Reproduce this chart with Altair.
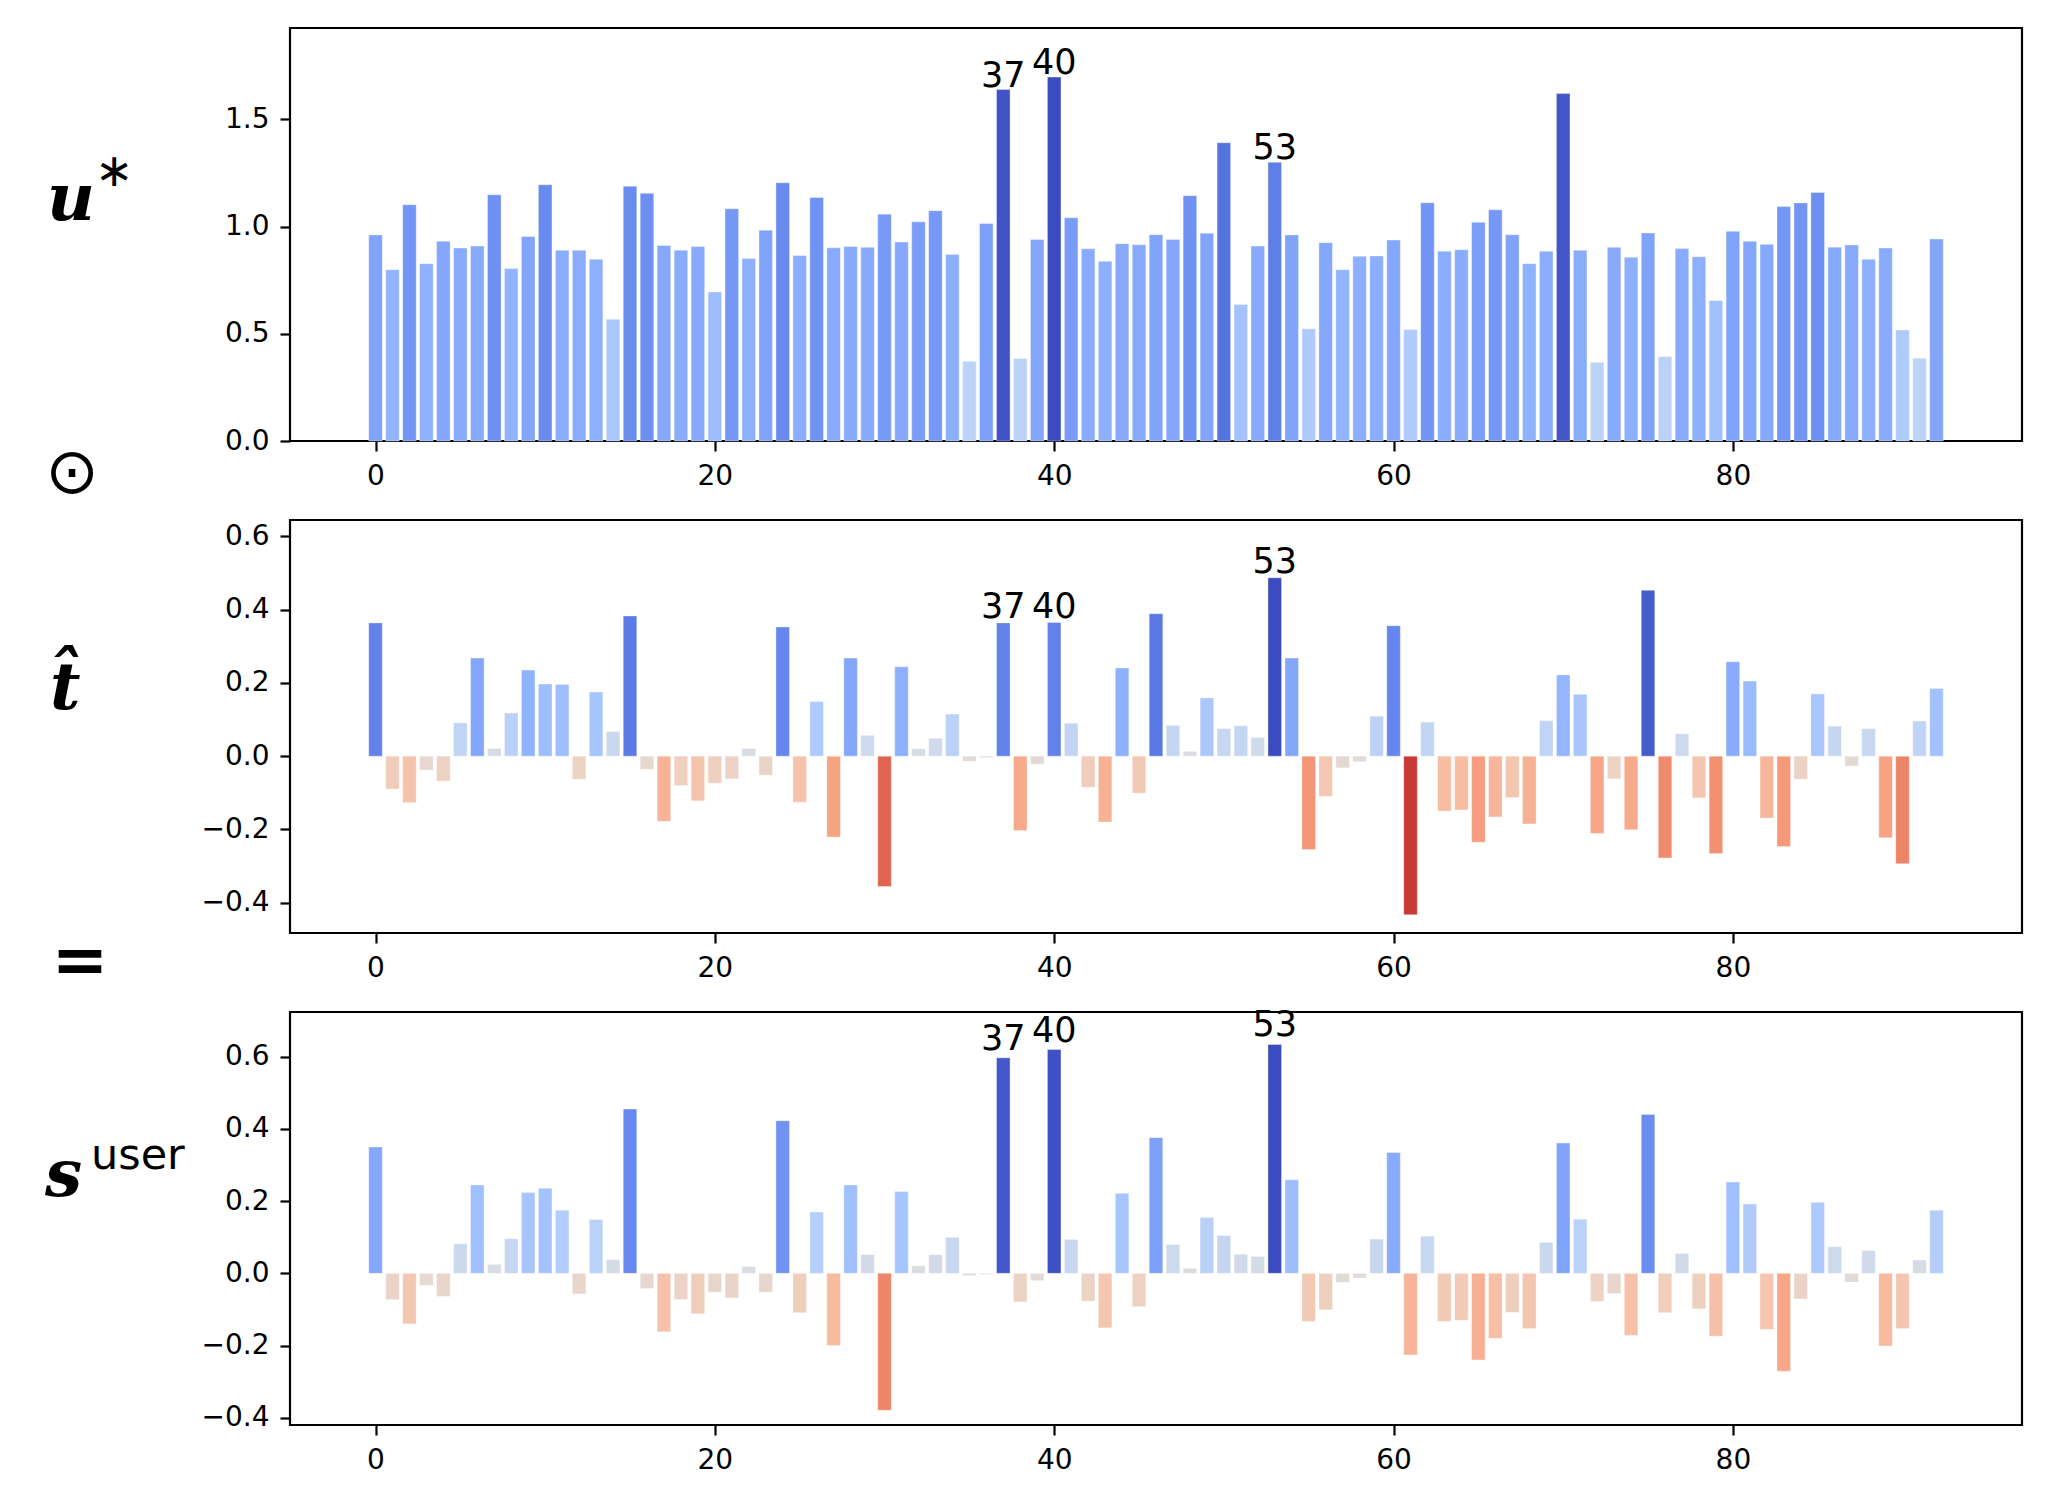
import altair as alt
import pandas as pd

IDX = list(range(93))

U_STAR = [0.961, 0.799, 1.102, 0.827, 0.932, 0.900, 0.909, 1.148, 0.804, 0.954,
          1.195, 0.889, 0.890, 0.848, 0.568, 1.188, 1.155, 0.912, 0.890, 0.907,
          0.695, 1.083, 0.851, 0.983, 1.204, 0.865, 1.135, 0.901, 0.907, 0.903,
          1.058, 0.928, 1.022, 1.074, 0.870, 0.372, 1.014, 1.639, 0.385, 0.940,
          1.697, 1.041, 0.896, 0.838, 0.920, 0.915, 0.962, 0.940, 1.144, 0.969,
          1.391, 0.637, 0.909, 1.300, 0.961, 0.523, 0.925, 0.799, 0.862, 0.863,
          0.937, 0.520, 1.111, 0.885, 0.892, 1.020, 1.078, 0.962, 0.827, 0.885,
          1.620, 0.890, 0.367, 0.903, 0.857, 0.970, 0.394, 0.898, 0.859, 0.655,
          0.978, 0.931, 0.917, 1.093, 1.110, 1.159, 0.904, 0.914, 0.848, 0.900,
          0.518, 0.386, 0.942]

T_HAT = [0.364, -0.090, -0.127, -0.038, -0.068, 0.091, 0.268, 0.021, 0.118, 0.235,
         0.197, 0.196, -0.063, 0.175, 0.067, 0.383, -0.036, -0.178, -0.080, -0.122,
         -0.074, -0.062, 0.021, -0.052, 0.353, -0.126, 0.149, -0.221, 0.268, 0.057,
         -0.356, 0.244, 0.020, 0.049, 0.115, -0.014, -0.004, 0.364, -0.203, -0.022,
         0.365, 0.090, -0.085, -0.180, 0.241, -0.101, 0.389, 0.084, 0.013, 0.159,
         0.075, 0.083, 0.051, 0.487, 0.268, -0.255, -0.110, -0.032, -0.015, 0.109,
         0.356, -0.433, 0.093, -0.150, -0.147, -0.235, -0.166, -0.113, -0.185, 0.097,
         0.222, 0.169, -0.211, -0.062, -0.201, 0.453, -0.278, 0.061, -0.114, -0.266,
         0.258, 0.205, -0.169, -0.247, -0.063, 0.170, 0.082, -0.027, 0.075, -0.223,
         -0.294, 0.096, 0.185]

S_USER = [0.350, -0.073, -0.140, -0.033, -0.064, 0.082, 0.245, 0.025, 0.096, 0.224,
          0.236, 0.175, -0.057, 0.149, 0.038, 0.455, -0.042, -0.162, -0.072, -0.112,
          -0.052, -0.068, 0.019, -0.052, 0.423, -0.109, 0.170, -0.200, 0.245, 0.052,
          -0.379, 0.227, 0.021, 0.052, 0.100, -0.006, -0.003, 0.597, -0.079, -0.020,
          0.620, 0.094, -0.077, -0.151, 0.222, -0.092, 0.376, 0.080, 0.014, 0.155,
          0.105, 0.053, 0.047, 0.634, 0.259, -0.133, -0.101, -0.025, -0.013, 0.095,
          0.335, -0.226, 0.103, -0.133, -0.130, -0.240, -0.180, -0.108, -0.153, 0.086,
          0.361, 0.150, -0.078, -0.056, -0.172, 0.440, -0.109, 0.055, -0.098, -0.174,
          0.253, 0.192, -0.155, -0.271, -0.071, 0.197, 0.074, -0.024, 0.063, -0.201,
          -0.153, 0.037, 0.175]

ANNOTATED = [37, 40, 53]
X_TICKS = [0, 20, 40, 60, 80]
Y_TICKS_TOP = [0.0, 0.5, 1.0, 1.5]
Y_TICKS_MID = [-0.4, -0.2, 0.0, 0.2, 0.4, 0.6]
Y_TICKS_BOT = [-0.4, -0.2, 0.0, 0.2, 0.4, 0.6]
X_DOMAIN = [-5.04, 97.04]
Y_DOMAIN_TOP = [0.0, 1.926]
Y_DOMAIN_MID = [-0.483, 0.645]
Y_DOMAIN_BOT = [-0.420, 0.724]

# matplotlib "coolwarm" colormap stops (Moreland), low -> high
COOLWARM = ["#3b4cc0", "#445acc", "#4d68d7", "#5775e1", "#6282ea", "#6c8ef1",
            "#779af7", "#82a5fb", "#8db0fe", "#98b9ff", "#a3c2ff", "#aec9fd",
            "#b8d0f9", "#c2d5f4", "#ccd9ee", "#d5dbe6", "#dddddd", "#e5d8d1",
            "#ecd3c5", "#f1ccb9", "#f5c4ad", "#f7bba0", "#f7b194", "#f7a687",
            "#f49a7b", "#f18d6f", "#ec7f63", "#e57058", "#de604d", "#d55042",
            "#cb3e38", "#c0282f", "#b40426"]

W, H = 1732, 413
MINUS = "\u2212"


def text_layer(s, x, y, size, font="DejaVu Sans", style="normal", weight="normal",
               align="left"):
    return alt.Chart(pd.DataFrame({"s": [s]})).mark_text(
        font=font, fontSize=size, fontStyle=style, fontWeight=weight,
        align=align, baseline="alphabetic", color="black"
    ).encode(text="s:N", x=alt.value(x), y=alt.value(y))


def panel(values, ydom, yticks, label_dy, extra):
    df = pd.DataFrame({"idx": IDX, "v": values})
    m = max(abs(v) for v in values)
    n = len(COOLWARM) - 1
    cdom = [-m + 2 * m * i / n for i in range(n + 1)]
    crange = COOLWARM[::-1]
    xsc = alt.Scale(domain=X_DOMAIN, nice=False, zero=False)
    ysc = alt.Scale(domain=ydom, nice=False, zero=False)
    base = alt.Chart(df).transform_calculate(x0="datum.idx - 0.4", x1="datum.idx + 0.4")
    bars = base.mark_rect(stroke="white", strokeWidth=0.6, strokeOpacity=0.6).encode(
        x=alt.X("x0:Q", scale=xsc,
                axis=alt.Axis(values=X_TICKS, format="d", title=None)),
        x2="x1:Q",
        y=alt.Y("v:Q", scale=ysc,
                axis=alt.Axis(values=yticks, title=None,
                              labelExpr="replace(format(datum.value, '.1f'), '-', '" + MINUS + "')")),
        y2=alt.datum(0),
        color=alt.Color("v:Q", scale=alt.Scale(domain=cdom, range=crange, interpolate="rgb"),
                        legend=None),
    )
    ann = base.transform_filter(
        alt.FieldOneOfPredicate(field="idx", oneOf=ANNOTATED)
    ).mark_text(font="DejaVu Sans", fontSize=35, baseline="alphabetic", dy=label_dy,
                color="black").encode(
        x=alt.X("idx:Q", scale=xsc),
        y=alt.Y("v:Q", scale=ysc),
        text=alt.Text("idx:Q", format="d"),
    )
    return alt.layer(bars, ann, *extra).properties(width=W, height=H)


SERIF = "DejaVu Serif"
p1 = panel(U_STAR, Y_DOMAIN_TOP, Y_TICKS_TOP, -3, [
    text_layer("u", -243, 192, 66, font=SERIF, style="italic", weight="bold"),
    text_layer("\u2217", -195, 158, 46),
    text_layer("\u2299", -218, 465, 64, align="center"),
])
p2 = panel(T_HAT, Y_DOMAIN_MID, Y_TICKS_MID, -5, [
    text_layer("t\u0302", -240, 189, 66, font=SERIF, style="italic", weight="bold"),
    text_layer("=", -210, 463, 68, weight="bold", align="center"),
])
p3 = panel(S_USER, Y_DOMAIN_BOT, Y_TICKS_BOT, -8, [
    text_layer("s", -245, 184, 66, font=SERIF, style="italic", weight="bold"),
    text_layer("user", -199, 157, 43),
])

chart = alt.vconcat(p1, p2, p3, spacing=79, bounds="flush").resolve_scale(
    color="independent"
).properties(
    padding={"left": 35, "top": 18, "right": 5, "bottom": 5}
).configure_view(
    stroke="black", strokeWidth=2.2
).configure_axis(
    domain=False, grid=False, ticks=True, tickColor="black", tickWidth=2.2, tickSize=10,
    labelFont="DejaVu Sans", labelFontSize=28, labelColor="black", labelPadding=11
)

chart.save("out.html", embed_options={"renderer": "svg", "actions": False})
